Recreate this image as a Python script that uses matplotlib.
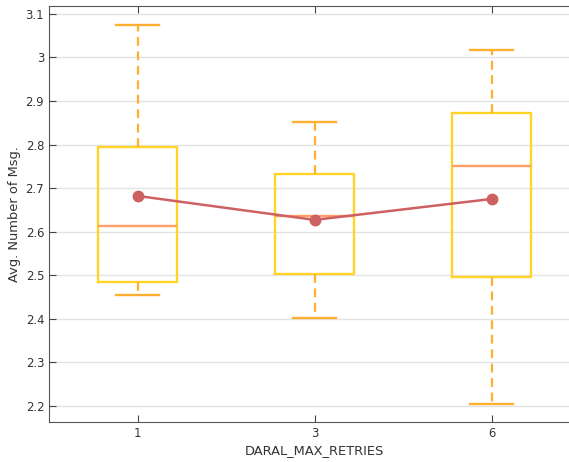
import matplotlib
matplotlib.use("Agg")
import matplotlib.pyplot as plt
from matplotlib.ticker import FuncFormatter

# values
labels = ["1", "3", "6"]
whislo = [2.455, 2.402, 2.205]
q1 = [2.485, 2.503, 2.496]
med = [2.613, 2.636, 2.751]
q3 = [2.795, 2.733, 2.873]
whishi = [3.074, 2.852, 3.017]
means = [2.682, 2.627, 2.675]

stats = []
for i in range(len(labels)):
    stats.append({"label": labels[i], "whislo": whislo[i], "q1": q1[i], "med": med[i],
                  "q3": q3[i], "whishi": whishi[i], "fliers": []})

fig = plt.figure(figsize=(5.69, 4.62), dpi=100)
ax = fig.add_axes([49 / 569, 40 / 462, 531 / 569, 416 / 462])

pos = list(range(len(labels)))
ax.bxp(stats, positions=pos, widths=0.45, showfliers=False,
       boxprops=dict(color="#ffd426", linewidth=1.7),
       whiskerprops=dict(color="#ffb030", linewidth=1.6, linestyle=(0, (4, 2.5))),
       capprops=dict(color="#ffb030", linewidth=1.7),
       medianprops=dict(color="#ff9f66", linewidth=1.7),
       capwidths=0.24)
ax.plot(pos, means, color="#cd6060", linewidth=1.8, marker="o", markersize=7.5, zorder=5)

ax.set_xlim(-0.5, 2.5)
ax.set_ylim(2.163, 3.118)
ax.set_yticks([2.2, 2.3, 2.4, 2.5, 2.6, 2.7, 2.8, 2.9, 3.0, 3.1])
ax.yaxis.set_major_formatter(FuncFormatter(lambda v, p: "%g" % round(v, 2)))
ax.set_xticks(pos)
ax.set_xticklabels(labels)
ax.grid(axis="y", color="#e3e3e3", linewidth=1)
ax.set_axisbelow(True)
ax.tick_params(direction="in", colors="#444444", labelcolor="#333333", labelsize=8.4,
               top=True, length=5)
for s in ["left", "bottom", "top"]:
    ax.spines[s].set_color("#555555")
ax.spines["right"].set_visible(False)
ax.set_xlabel("DARAL_MAX_RETRIES", fontsize=9.4, color="#333333", labelpad=3)
ax.set_ylabel("Avg. Number of Msg.", fontsize=9.4, color="#333333", labelpad=3)

fig.savefig("out.png", dpi=100)
